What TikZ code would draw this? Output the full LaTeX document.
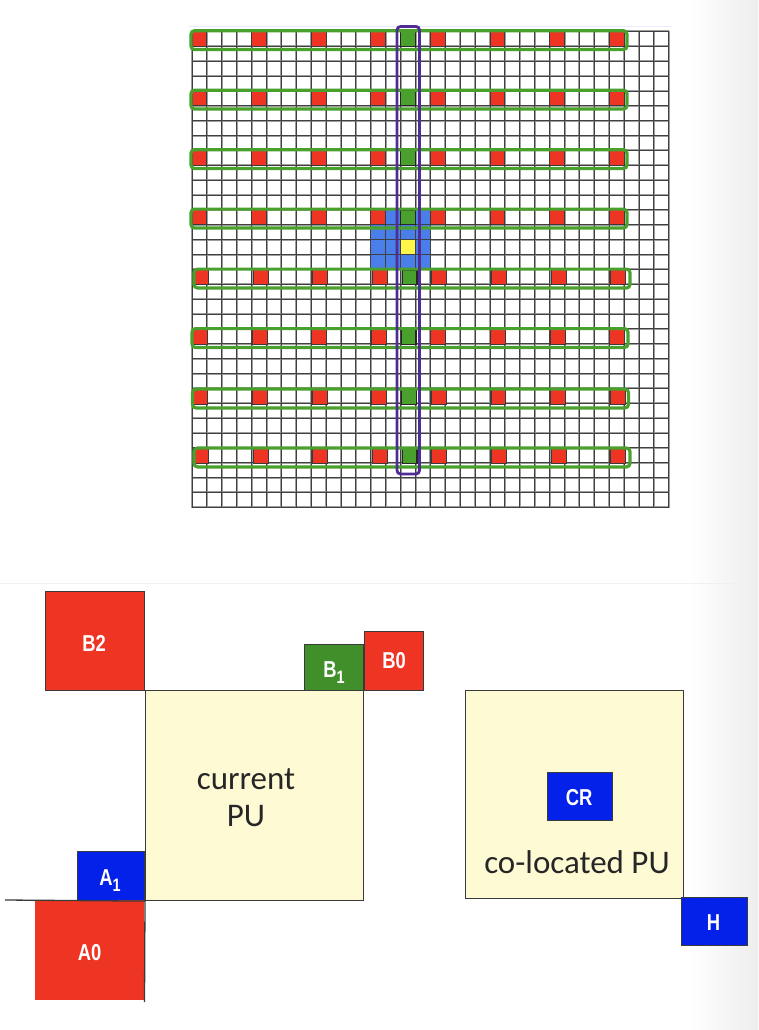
\documentclass[tikz,border=0pt]{standalone}
\usepackage{fontspec}
\setmainfont{Carlito}
\newfontfamily\lab[FakeStretch=0.8]{Liberation Sans}
\definecolor{cred}{HTML}{EE3524}
\definecolor{cgreen}{HTML}{4AA02C}
\definecolor{dgreen}{HTML}{418F2B}
\definecolor{cblue}{HTML}{0321E8}
\definecolor{lblue}{HTML}{4A7FEA}
\definecolor{cyel}{HTML}{FFF64A}
\definecolor{cream}{HTML}{FEFBD4}
\definecolor{cpur}{HTML}{4F2D94}
\definecolor{cedge}{HTML}{3A3A3A}
\newcommand{\subone}{\raisebox{-6pt}{\fontsize{18}{20}\selectfont 1}}
\tikzset{
  gridhalo/.style={draw=black!38,line width=2pt},
  gridcell/.style={draw=black!75,line width=0.9pt},
  refcell/.style={fill=cred,draw=cedge,line width=0.9pt},
  greencell/.style={fill=cgreen,draw=black!85,line width=1.2pt},
  rowbox/.style={draw=cgreen,line width=3.2pt,rounded corners=3.5pt},
  colbox/.style={draw=cpur,line width=2.8pt,rounded corners=3.5pt},
  bigbox/.style={draw=cedge,line width=1.1pt,inner sep=0pt},
  lbl/.style={text=white,inner sep=0pt,font=\lab\bfseries\fontsize{23}{26}\selectfont},
  pu/.style={font=\fontsize{33}{37}\selectfont,text=black!85,align=center},
  faint/.style={draw=black!6,line width=0.8pt}
}
\begin{document}
\begin{tikzpicture}[x=1pt,y=-1pt]
\useasboundingbox (0,0) rectangle (758,1030);
\shade[left color=white,right color=black!7] (690,0) rectangle (758,1030);
\coordinate (fa) at (0,583.5);
\coordinate (fb) at (758,583.5);
\draw[faint] (fa) -- (fb);
\coordinate (fc) at (188,26);
\coordinate (fd) at (672,26);
\draw[faint,draw=blue!8] (fc) -- (fd);
% grid
\foreach \i in {0,...,32}{
  \pgfmathsetmacro{\gx}{192+\i*14.9}
  \pgfmathsetmacro{\gy}{31.5+\i*14.87}
  \draw[gridhalo] (\gx,31.5) -- (\gx,508);
  \draw[gridhalo] (192,\gy) -- (669,\gy);
}
\fill[lblue] (371,210.3) rectangle (431,269);
\fill[cyel] (400.6,240) rectangle (415.5,254.5);
\foreach \i in {0,...,32}{
  \pgfmathsetmacro{\gx}{192+\i*14.9}
  \pgfmathsetmacro{\gy}{31.5+\i*14.87}
  \draw[gridcell] (\gx,31.5) -- (\gx,508);
  \draw[gridcell] (192,\gy) -- (669,\gy);
}
% reference cells
\foreach \r/\dx/\dy/\bx in {0/0/0/0,4/0/0/0,8/0/0/0,12/0/0/0,16/1.5/0.5/3,20/0.5/0.5/1,24/1/1.5/1.5,28/1.5/1/3}{
  \pgfmathsetmacro{\ya}{31.5+\r*14.87+\dy}
  \pgfmathsetmacro{\yb}{\ya+14.87}
  \foreach \c in {0,4,8,12,16,20,24,28}{
    \pgfmathsetmacro{\xa}{192+\c*14.9+\dx}
    \pgfmathsetmacro{\xb}{\xa+14.9}
    \draw[refcell] (\xa,\ya) rectangle (\xb,\yb);
  }
  \pgfmathsetmacro{\xa}{192+14*14.9+\dx}
  \pgfmathsetmacro{\xb}{\xa+14.9}
  \draw[greencell] (\xa,\ya) rectangle (\xb,\yb);
  \pgfmathsetmacro{\ra}{191+\bx}
  \pgfmathsetmacro{\rb}{627+\bx}
  \pgfmathsetmacro{\rc}{\ya-0.8}
  \pgfmathsetmacro{\rd}{\yb+3.2}
  \draw[rowbox] (\ra,\rc) rectangle (\rb,\rd);
}
\draw[colbox] (397,26.5) rectangle (419.5,474);
% lower part
\node[bigbox,fill=cream,anchor=north west,minimum width=218pt,minimum height=210pt] (cur) at (145,690) {};
\node[pu] (curt) at (246,798) {current\\PU};
\node[bigbox,fill=cred,anchor=north west,minimum width=99pt,minimum height=99pt] (b2) at (45,591) {};
\node[lbl] (b2t) at ([xshift=-1pt,yshift=-2pt]b2.center) {B2};
\node[bigbox,fill=cred,anchor=north west,minimum width=59pt,minimum height=59pt] (b0) at (364,631) {};
\node[lbl] (b0t) at (b0.center) {B0};
\node[bigbox,fill=dgreen,anchor=north west,minimum width=59pt,minimum height=46pt] (b1) at (304,644) {};
\node[lbl] (b1t) at ([yshift=-5pt]b1.center) {B\subone};
\node[bigbox,fill=cblue,anchor=north west,minimum width=67pt,minimum height=49pt] (a1) at (77,851) {};
\node[lbl] (a1t) at ([xshift=-1pt,yshift=-5pt]a1.center) {A\subone};
\node[fill=cred,inner sep=0pt,anchor=north west,minimum width=109pt,minimum height=100pt] (a0) at (35,900) {};
\node[lbl] (a0t) at ([yshift=-2pt]a0.center) {A0};
\coordinate (ll) at (5,900);
\coordinate (vb) at (144.5,1002);
\draw[cedge,line width=1.3pt] (ll) -- (cur.south west);
\draw[cedge,line width=1.3pt] (cur.south west) -- (vb);
\node[bigbox,fill=cream,anchor=north west,minimum width=218pt,minimum height=208pt] (col) at (465,690) {};
\node[bigbox,fill=cblue,anchor=north west,minimum width=65pt,minimum height=48pt] (cr) at (547,772) {};
\node[lbl] (crt) at ([xshift=-1pt,yshift=-1pt]cr.center) {CR};
\node[pu] (colt) at (577,862) {co-located PU};
\node[bigbox,fill=cblue,anchor=north west,minimum width=66pt,minimum height=48pt] (h) at (681,897) {};
\node[lbl] (ht) at ([xshift=-1pt,yshift=-1pt]h.center) {H};
\end{tikzpicture}
\end{document}
